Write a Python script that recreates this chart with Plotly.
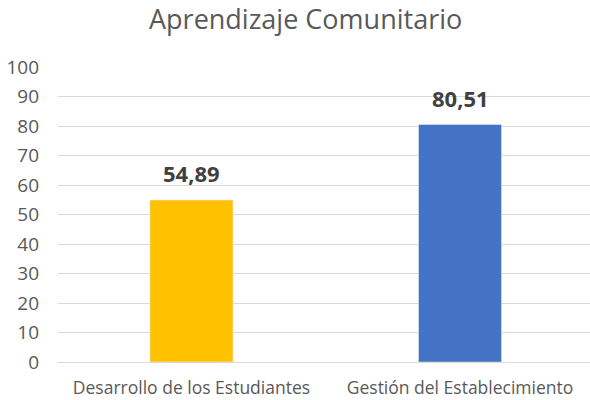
import plotly.graph_objects as go

categories = ["Desarrollo de los Estudiantes", "Gestión del Establecimiento"]
values = [54.89, 80.51]
labels = ["54,89", "80,51"]
colors = ["#FFC000", "#4472C4"]
y_ticks = list(range(0, 101, 10))

fig = go.Figure(go.Bar(
    x=categories, y=values, marker_color=colors, width=0.309,
))
for c, v, t in zip(categories, values, labels):
    fig.add_annotation(x=c, y=v, text=t, showarrow=False, yanchor="bottom", yshift=10,
                       font=dict(family="Open Sans", size=22, color="#404040", weight="bold"))
fig.update_layout(
    width=590, height=400,
    margin=dict(l=58, r=0, t=67, b=38, autoexpand=False),
    paper_bgcolor="white", plot_bgcolor="white",
    title=dict(text="Aprendizaje Comunitario", x=0.518, xanchor="center", y=0.95, yanchor="middle",
               font=dict(family="Open Sans", size=27, color="#595959")),
    showlegend=False,
    font=dict(family="Open Sans", color="#595959"),
)
fig.update_yaxes(range=[0, 100], tickvals=y_ticks, showgrid=True, gridcolor="#D9D9D9", gridwidth=1,
                 zeroline=False, showline=False, tickfont=dict(size=19, color="#595959"), ticks="",
                 ticklabelstandoff=18, automargin=False)
fig.update_xaxes(range=[-0.497, 1.484], showline=True, linecolor="#D9D9D9", linewidth=1, ticks="",
                 automargin=False, ticklabelstandoff=10, tickfont=dict(size=17.5, color="#595959"))
fig.write_html("out.html", post_script="document.body.style.margin='0';",
               config={"displayModeBar": False})
